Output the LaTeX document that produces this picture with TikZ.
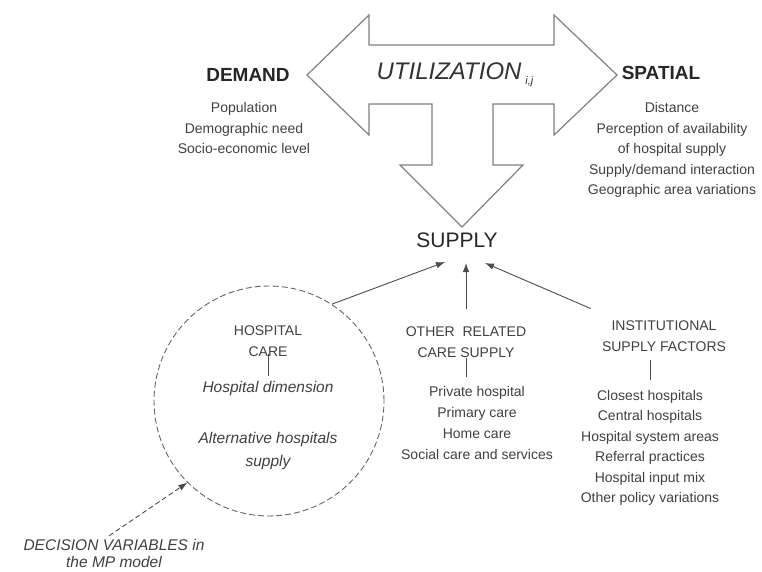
\documentclass[tikz,border=0pt]{standalone}
\usepackage{fontspec}
\setmainfont{Liberation Sans}
\usetikzlibrary{arrows.meta}

\begin{document}
\begin{tikzpicture}[x=1pt, y=-1pt,
    title/.style={font=\fontsize{19}{19}\selectfont\bfseries, text=black!85},
    head/.style={font=\fontsize{14}{21}\selectfont, align=center, inner sep=0pt, text=black!75},
    items/.style={font=\fontsize{14}{20.5}\selectfont, align=center, inner sep=0pt, text=black!75},
    choice/.style={font=\fontsize{15.5}{23}\selectfont\itshape, align=center, inner sep=0pt, text=black!75},
    link/.style={draw=black!70, line width=0.9pt, -{Latex[length=9pt,width=6.5pt]}},
    tick/.style={draw=black!70, line width=0.8pt}]
    \useasboundingbox (0,0) rectangle (762,572);

    % the big arrow
    \draw[draw=black!50, line width=1.2pt]
        (307,75) -- (369,15) -- (369,45) -- (554,45) -- (554,15) -- (617,75)
        -- (554,135) -- (554,104) -- (493,104) -- (493,165) -- (523,165)
        -- (462,227) -- (400,165) -- (432,165) -- (432,104) -- (369,104)
        -- (369,135) -- cycle;
    \node[font=\fontsize{24}{24}\selectfont\itshape, text=black!80] (util) at (455,75)
        {UTILIZATION\,\raisebox{-5pt}{\fontsize{11}{11}\selectfont i,j}};

    \node[title] (demand) at (248,75) {DEMAND};
    \node[items] (demlist) at (244,128) {Population\\Demographic need\\Socio-economic level};
    \node[title] (spatial) at (661,73) {SPATIAL};
    \node[items] (spatlist) at (672,150) {Distance\\Perception of availability\\of hospital supply\\Supply/demand interaction\\Geographic area variations};

    \node[font=\fontsize{21}{21}\selectfont, text=black!85] (supply) at (457,240) {SUPPLY};
    \coordinate (sL) at (445,262);
    \coordinate (sM) at (466,263);
    \coordinate (sR) at (485,263);

    % hospital care
    \node[draw=black!60, circle, dash pattern=on 6pt off 3pt, line width=0.9pt, minimum size=230pt] (hosp) at (269,401) {};
    \node[head, text width=120pt] (hcare) at (268,341) {HOSPITAL\\CARE};
    \node[choice] (hdim) at (268,388) {Hospital dimension};
    \node[choice] (halt) at (268,451) {Alternative hospitals\\supply};
    \draw[tick, shorten <=-3pt, shorten >=5pt] (hcare.south) -- (hcare.south |- hdim.north);

    % other related care
    \node[head] (other) at (466,342) {OTHER\ \ RELATED\\CARE SUPPLY};
    \node[items, font=\fontsize{14}{21}\selectfont] (otherlist) at (477,423) {Private hospital\\Primary care\\Home care\\Social care and services};
    \draw[tick, shorten >=9pt] (other.south) -- (other.south |- otherlist.north);

    % institutional factors
    \node[head] (inst) at (664,336) {INSTITUTIONAL\\SUPPLY FACTORS};
    \node[items] (instlist) at (650,448) {Closest hospitals\\Central hospitals\\Hospital system areas\\Referral practices\\Hospital input mix\\Other policy variations};
    \draw[tick, shorten <=10pt, shorten >=8pt] (instlist.north) -- (instlist.north |- inst.south);

    \draw[link] (hosp.57) -- (sL);
    \draw[link, shorten <=17pt] (other.north) -- (sM);
    \draw[link, shorten <=12pt] ([yshift=7pt]inst.north west) -- (sR);

    % decision variables
    \node[font=\fontsize{15.5}{17}\selectfont\itshape, align=center, inner sep=0pt, text=black!75] (decision) at (114,553) {DECISION VARIABLES in\\the MP model};
    \draw[link, dash pattern=on 5pt off 3pt, shorten <=5pt] ([xshift=-9pt]decision.north) -- (hosp.225);
\end{tikzpicture}
\end{document}
